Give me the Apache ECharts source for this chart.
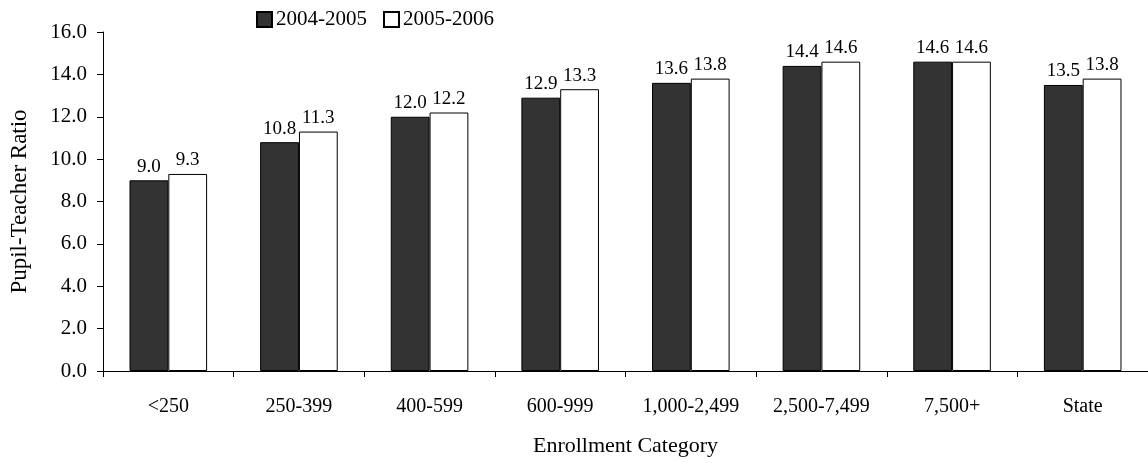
<!DOCTYPE html>
<html><head><meta charset="utf-8">
<script src="https://cdn.jsdelivr.net/npm/echarts@6/dist/echarts.min.js"></script>
<style>html,body{margin:0;padding:0;background:#fff}#c{width:1148px;height:463px}</style>
</head><body><div id="c"></div>
<script>
var categories = ['<250','250-399','400-599','600-999','1,000-2,499','2,500-7,499','7,500+','State'];
var series2004 = [9.0,10.8,12.0,12.9,13.6,14.4,14.6,13.5];
var series2005 = [9.3,11.3,12.2,13.3,13.8,14.6,14.6,13.8];
var seriesNames = ['2004-2005','2005-2006'];
var font = '"Liberation Serif","Times New Roman",serif';
var chart = echarts.init(document.getElementById('c'), null, {renderer:'canvas'});
var lbl = {show:true, position:'top', distance:4, color:'#000', fontFamily:font, fontSize:19, formatter:function(p){return p.value.toFixed(1);}};
chart.setOption({
  animation:false,
  textStyle:{fontFamily:font},
  legend:{
    left:251, top:4, itemWidth:15, itemHeight:15, itemGap:16,
    icon:'rect',
    textStyle:{fontFamily:font, fontSize:21, color:'#000', padding:[0,0,0,-1]},
    data:seriesNames
  },
  grid:{left:101, width:1050, top:32, bottom:92, containLabel:false},
  xAxis:{
    type:'category', data:categories,
    name:'Enrollment Category', nameLocation:'middle', nameGap:64,
    nameTextStyle:{fontFamily:font, fontSize:22, color:'#000'},
    axisLine:{lineStyle:{color:'#000', width:1}},
    axisTick:{show:true, interval:0, alignWithLabel:false, length:6, lineStyle:{color:'#000'}},
    axisLabel:{interval:0, color:'#000', fontFamily:font, fontSize:20, margin:26}
  },
  yAxis:{
    type:'value', min:0, max:16, interval:2,
    name:'Pupil-Teacher Ratio', nameLocation:'middle', nameGap:72,
    nameTextStyle:{fontFamily:font, fontSize:23, color:'#000'},
    axisLine:{show:true, lineStyle:{color:'#000'}},
    axisTick:{show:true, length:6, lineStyle:{color:'#000'}},
    splitLine:{show:false},
    axisLabel:{color:'#000', fontFamily:font, fontSize:21, margin:16, formatter:function(v){return v.toFixed(1);}}
  },
  series:[
    {name:seriesNames[0], type:'bar', data:series2004, barWidth:'29.7%', barGap:'0%',
     itemStyle:{color:'#333333', borderColor:'#000', borderWidth:1}, label:lbl},
    {name:seriesNames[1], type:'bar', data:series2005, barWidth:'29.7%', barGap:'0%',
     itemStyle:{color:'#ffffff', borderColor:'#000', borderWidth:1}, label:lbl}
  ]
});
</script></body></html>
